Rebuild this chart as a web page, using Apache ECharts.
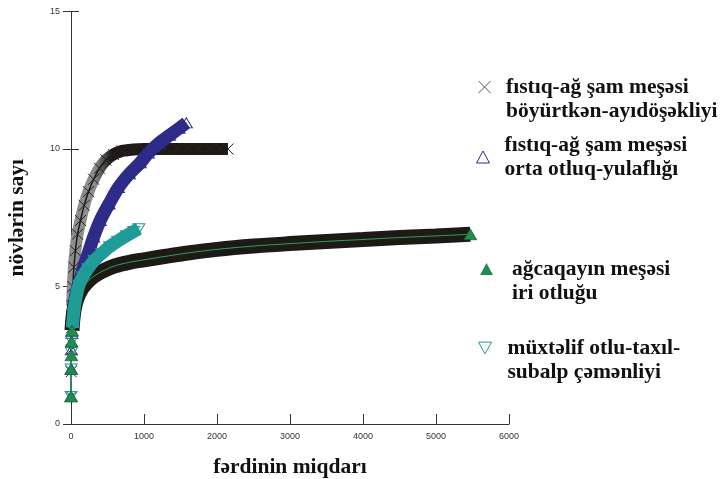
<!DOCTYPE html>
<html>
<head>
<meta charset="utf-8">
<script src="https://cdn.jsdelivr.net/npm/echarts@6/dist/echarts.min.js"></script>
<style>
  html, body { margin: 0; padding: 0; background: #fff; }
  #chart { width: 723px; height: 479px; }
</style>
</head>
<body>
<div id="chart"></div>
<script>
// Rarefaction curves: number of species vs. number of individuals
const xTicks = [0, 1000, 2000, 3000, 4000, 5000, 6000];
const yTicks = [0, 5, 10, 15];

const seriesNames = [
  'fıstıq-ağ şam meşəsi\nböyürtkən-ayıdöşəkliyi',
  'fıstıq-ağ şam meşəsi\norta otluq-yulaflığı',
  'ağcaqayın meşəsi\niri otluğu',
  'müxtəlif otlu-taxıl-\nsubalp çəmənliyi'
];

// [individuals, species]
const boyurtken = [[1,1],[2,1.9],[4,2.7],[8,3.5],[15,4.3],[25,5.0],[40,5.7],[60,6.3],[90,6.9],
  [130,7.4],[180,7.95],[240,8.45],[310,8.9],[390,9.3],[480,9.6],[580,9.8],[700,9.93],[850,9.98],
  [1000,10],[1150,10],[1300,10],[1450,10],[1600,10],[1750,10],[1900,10],[2050,10],[2150,10]];

const ortaOtluq = [[1,1],[3,2],[6,2.7],[12,3.3],[25,3.9],[45,4.4],[75,4.8],[110,5.1],[160,5.6],
  [235,6.2],[310,6.8],[400,7.4],[520,8.0],[650,8.6],[800,9.1],[950,9.5],[1060,9.85],[1200,10.2],
  [1350,10.5],[1480,10.75],[1580,10.95]];

const iriOtlu = [[1,1],[3,2],[5,2.5],[8,3],[14,3.4],[25,3.8],[45,4.2],[80,4.55],[130,4.85],
  [200,5.1],[300,5.35],[425,5.55],[600,5.75],[800,5.88],[1000,5.97],[1300,6.1],[1600,6.22],
  [2000,6.35],[2500,6.47],[3000,6.56],[3500,6.64],[4000,6.71],[4500,6.78],[5000,6.84],[5470,6.9]];

const subalp = [[1,1],[3,2],[6,2.6],[10,3.0],[20,3.5],[35,4.0],[55,4.4],[80,4.75],[110,5.05],
  [160,5.35],[230,5.65],[320,5.95],[420,6.2],[530,6.45],[640,6.65],[760,6.85],[860,7.0],[930,7.1]];

const C_BLACK = '#1d1915';
const C_NAVY = '#2f2b88';
const C_GREEN = '#1d8c4c';
const C_TEAL = '#1f9c9a';
const CROSS = 'path://M0,0L10,10M0,10L10,0';
const SERIF = "'Liberation Serif','Times New Roman',serif";
const LABEL_FONT = "Arial, 'Liberation Sans', sans-serif";

const chart = echarts.init(document.getElementById('chart'), null, { renderer: 'canvas' });

// firstLine: icon level with the first text line instead of the middle of the block
function legendBox(name, icon, style, left, top, padLeft, firstLine) {
  return {
    data: [{ name: name, icon: icon, itemStyle: style }],
    left: left, top: top, orient: 'vertical', selectedMode: false,
    itemWidth: 13, itemHeight: 12,
    formatter: firstLine ? (n) => '\n' + n : (n) => n,
    textStyle: {
      fontFamily: SERIF, fontWeight: 'bold', fontSize: 21.5, color: '#111',
      lineHeight: 24, padding: [0, 0, 0, padLeft]
    }
  };
}

const option = {
  animation: false,
  backgroundColor: '#fff',
  grid: { left: 71, right: 214, top: 11.5, bottom: 55, containLabel: false, outerBoundsMode: 'none' },
  legend: [
    legendBox(seriesNames[0], CROSS, { color: 'none', borderColor: '#555', borderWidth: 1 }, 471, 46, 10, true),
    legendBox(seriesNames[1], 'triangle', { color: '#fff', borderColor: C_NAVY, borderWidth: 1 }, 471, 128, 10, false),
    legendBox(seriesNames[2], 'triangle', { color: C_GREEN, borderColor: C_GREEN, borderWidth: 0 }, 475, 228, 14, true),
    legendBox(seriesNames[3], 'path://M0,0L10,0L5,9Z', { color: '#fff', borderColor: C_TEAL, borderWidth: 1 }, 473, 307, 11, true)
  ],
  xAxis: {
    type: 'value', min: xTicks[0], max: xTicks[xTicks.length - 1], interval: 1000,
    name: 'fərdinin miqdarı', nameLocation: 'middle', nameGap: 32,
    nameTextStyle: { fontFamily: SERIF, fontWeight: 'bold', fontSize: 21.5, color: '#111' },
    axisLine: { show: true, lineStyle: { color: '#333', width: 1 } },
    axisTick: { show: true, inside: true, length: 10, lineStyle: { color: '#333' } },
    axisLabel: { fontFamily: LABEL_FONT, fontSize: 9, color: '#333', margin: 8, formatter: (v) => String(v) },
    splitLine: { show: false }
  },
  yAxis: [
    {
      type: 'value', min: yTicks[0], max: yTicks[yTicks.length - 1], interval: 5,
      name: 'növlərin sayı', nameLocation: 'middle', nameGap: 43, nameRotate: 90,
      nameTextStyle: { fontFamily: SERIF, fontWeight: 'bold', fontSize: 21.5, color: '#111' },
      axisLine: { show: true, lineStyle: { color: '#333', width: 1 } },
      axisTick: { show: true, inside: false, length: 8, lineStyle: { color: '#333' } },
      axisLabel: { fontFamily: LABEL_FONT, fontSize: 9, color: '#333', margin: 11, formatter: (v) => String(v) },
      splitLine: { show: false }
    },
    {
      // inner half of the crossing tick marks
      type: 'value', min: yTicks[0], max: yTicks[yTicks.length - 1], interval: 5, position: 'left',
      axisLine: { show: false },
      axisTick: { show: true, inside: true, length: 8, lineStyle: { color: '#333' } },
      axisLabel: { show: false },
      splitLine: { show: false }
    }
  ],
  series: [
    // wide bands formed by the densely packed markers
    {
      name: 'band-1', type: 'line', data: boyurtken.slice(4), showSymbol: false, silent: true, z: 1,
      smooth: 0.3,
      lineStyle: { width: 12, cap: 'butt', join: 'round', color: {
        type: 'linear', x: 0, y: 0, x2: 1, y2: 0,
        colorStops: [{ offset: 0, color: '#8d8d8d' }, { offset: 0.17, color: '#8d8d8d' },
                     { offset: 0.27, color: C_BLACK }, { offset: 1, color: C_BLACK }] } }
    },
    {
      name: seriesNames[0], type: 'line', data: boyurtken, z: 2, smooth: 0.3,
      symbol: CROSS, symbolSize: 11,
      itemStyle: { color: C_BLACK, borderColor: '#222', borderWidth: 1 },
      lineStyle: { width: 1.5, color: C_BLACK }
    },
    {
      name: 'band-2', type: 'line', data: ortaOtluq.slice(4), showSymbol: false, silent: true, z: 3,
      smooth: 0.3, lineStyle: { width: 13, cap: 'butt', color: C_NAVY }
    },
    {
      name: seriesNames[1], type: 'line', data: ortaOtluq, z: 4, smooth: 0.3,
      symbol: 'triangle', symbolSize: [12, 10],
      itemStyle: { color: 'rgba(255,255,255,0)', borderColor: C_NAVY, borderWidth: 1 },
      lineStyle: { width: 1, color: C_NAVY }
    },
    {
      name: 'band-3', type: 'line', data: iriOtlu.slice(4), showSymbol: false, silent: true, z: 5,
      smooth: 0.3, lineStyle: { width: 15, cap: 'butt', color: C_BLACK }
    },
    {
      name: 'band-4', type: 'line', data: subalp.slice(4), showSymbol: false, silent: true, z: 6,
      smooth: 0.3, lineStyle: { width: 13, cap: 'butt', color: C_TEAL }
    },
    {
      name: seriesNames[3], type: 'line', data: subalp, z: 7, smooth: 0.3,
      symbol: 'triangle', symbolRotate: 180, symbolSize: [12, 10],
      itemStyle: { color: 'rgba(255,255,255,0)', borderColor: C_TEAL, borderWidth: 1 },
      lineStyle: { width: 1, color: C_TEAL }
    },
    {
      name: seriesNames[2], type: 'line', data: iriOtlu, z: 8, smooth: 0.3,
      symbol: 'triangle',
      symbolSize: (v, p) => (p.dataIndex < 5 || p.dataIndex === iriOtlu.length - 1) ? [13, 11] : 0,
      itemStyle: { color: C_GREEN, borderColor: '#14502c', borderWidth: 0.6 },
      lineStyle: { width: 1, color: '#2ea060' }
    }
  ]
};

chart.setOption(option);
</script>
</body>
</html>
